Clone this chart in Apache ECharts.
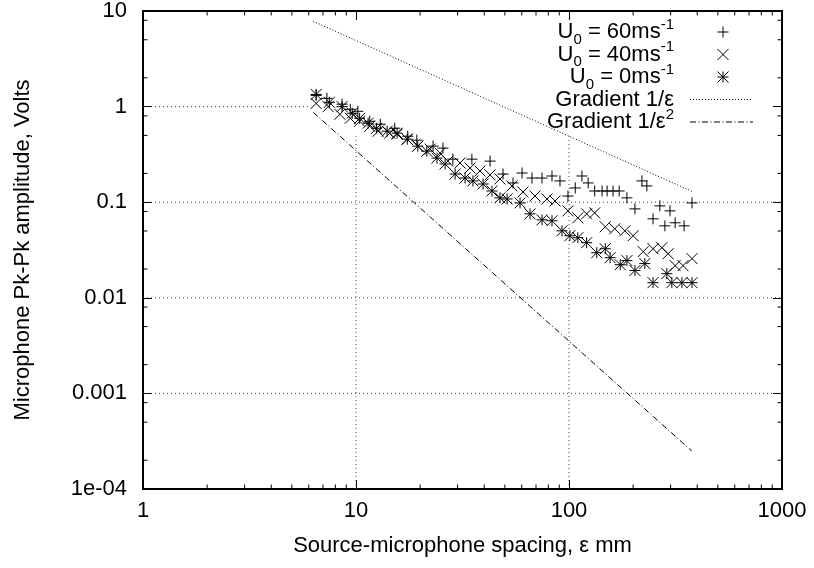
<!DOCTYPE html>
<html>
<head>
<meta charset="utf-8">
<script src="https://cdn.jsdelivr.net/npm/echarts@6/dist/echarts.min.js"></script>
<style>
html,body{margin:0;padding:0;background:#fff}
#chart{width:814px;height:568px}
</style>
</head>
<body>
<div id="chart"></div>
<script>
// U0 = 60 m/s  (+)
var u60X=[6.5,7.3,8.6,9.4,10.2,11.6,13.0,15.2,17.5,19.3,23.0,25.6,28.5,35.0,42.6,49.0,54.6,60.2,67.0,74.7,83.2,90.7,98.9,107,115,123,132,143,151,161,172,187,204,220,232,248,267,282,298,315,347,378];
var u60Y=[1.31,1.22,1.06,0.937,0.893,0.703,0.654,0.594,0.49,0.446,0.386,0.368,0.282,0.282,0.269,0.197,0.159,0.202,0.179,0.179,0.188,0.167,0.116,0.141,0.188,0.159,0.131,0.131,0.131,0.131,0.131,0.111,0.0851,0.167,0.148,0.067,0.0915,0.0566,0.0812,0.0609,0.0566,0.0983];
// U0 = 40 m/s  (x)
var u40X=[6.5,7.4,8.4,9.4,10.4,11.6,12.7,14.4,15.6,17.4,19.5,22.3,24.8,27.0,30.8,34.3,38.2,42.6,47.4,54.0,60.8,69.2,78.8,86.0,98.9,110,121,132,148,164,183,200,223,248,273,292,315,343,378];
var u40Y=[1.08,1.0,0.831,0.755,0.703,0.623,0.553,0.527,0.515,0.456,0.386,0.359,0.326,0.269,0.257,0.228,0.212,0.193,0.175,0.148,0.128,0.116,0.108,0.103,0.0812,0.0686,0.0755,0.0774,0.0553,0.0527,0.0502,0.0446,0.0304,0.0326,0.0334,0.0289,0.0217,0.0217,0.0257];
// U0 = 0 m/s  (*)
var u0X=[6.5,7.5,8.6,9.6,10.4,11.4,12.5,14.0,15.6,17.4,19.5,21.5,24.0,26.2,29.2,32.5,35.4,39.5,43.5,47.4,51.2,58.9,65.6,74.7,83.2,92.7,101,110,121,135,148,156,174,187,204,227,248,288,304,339,378];
var u0Y=[1.34,1.11,1.0,0.852,0.755,0.670,0.594,0.553,0.527,0.456,0.386,0.342,0.289,0.251,0.197,0.179,0.167,0.155,0.131,0.111,0.108,0.0983,0.0755,0.0654,0.0639,0.0502,0.0446,0.0425,0.0377,0.0296,0.0326,0.0263,0.0222,0.0245,0.0193,0.0228,0.0144,0.0179,0.0144,0.0144,0.0144];
// reference gradients (end points)
var grad1X=[6.3,377];
var grad1Y=[7.8,0.13];
var grad2X=[6.3,377];
var grad2Y=[0.87,0.00025];

var xTickLabels=['1','10','100','1000'];
var yTickLabels=['1e-04','0.001','0.01','0.1','1','10'];
var xMinorSteps=[2,3,4,5,6,7,8,9];
var yMinorSteps=[2,5,8];

var FONT='"Liberation Sans", Arial, Helvetica, sans-serif';
var xMin=1,xMax=1000,yMin=0.0001,yMax=10;

function zip(xs,ys){
	var d=[];
	for(var i=0;i<xs.length;i++) d.push([xs[i],ys[i]]);
	return d;
}
function log10(v){ return Math.log(v)/Math.LN10; }

function glyph(kind,cx,cy,s){
	var l=[],ch=[];
	if(kind=='plus'||kind=='star'){ l.push([-s,0,s,0]); l.push([0,-s,0,s]); }
	if(kind=='cross'||kind=='star'){ l.push([-s,-s,s,s]); l.push([-s,s,s,-s]); }
	for(var i=0;i<l.length;i++){
		ch.push({type:'line',shape:{x1:cx+l[i][0],y1:cy+l[i][1],x2:cx+l[i][2],y2:cy+l[i][3]},
			style:{stroke:'#000',lineWidth:1}});
	}
	return {type:'group',children:ch};
}
function markerSeries(name,kind,data){
	return {name:name,type:'custom',data:data,encode:{x:0,y:1},z:5,
		renderItem:function(params,api){
			var p=api.coord([api.value(0),api.value(1)]);
			return glyph(kind,p[0],p[1],5.5);
		}};
}
function lineSeries(data,dash,col,z){
	return {type:'line',data:data,symbol:'none',silent:true,z:z,
		lineStyle:{color:col,width:1,type:dash}};
}
// minor ticks on all four borders
function minorTicks(){
	var d=[],i,j;
	for(i=0;i<3;i++) for(j=0;j<xMinorSteps.length;j++) d.push(['x',xMinorSteps[j]*Math.pow(10,i)]);
	for(i=-4;i<1;i++) for(j=0;j<yMinorSteps.length;j++) d.push(['y',yMinorSteps[j]*Math.pow(10,i)]);
	return {type:'custom',silent:true,z:6,clip:false,
		data:d.map(function(t){ return t[0]=='x'?[t[1],yMin]:[xMin,t[1]]; }),
		encode:{x:0,y:1},
		renderItem:function(params,api){
			var t=d[params.dataIndex],len=4.5,a,b;
			if(t[0]=='x'){
				a=api.coord([t[1],yMin]); b=api.coord([t[1],yMax]);
				return {type:'group',children:[
					{type:'line',shape:{x1:a[0],y1:a[1],x2:a[0],y2:a[1]-len},style:{stroke:'#000',lineWidth:1}},
					{type:'line',shape:{x1:b[0],y1:b[1],x2:b[0],y2:b[1]+len},style:{stroke:'#000',lineWidth:1}}]};
			}
			a=api.coord([xMin,t[1]]); b=api.coord([xMax,t[1]]);
			return {type:'group',children:[
				{type:'line',shape:{x1:a[0],y1:a[1],x2:a[0]+len,y2:a[1]},style:{stroke:'#000',lineWidth:1}},
				{type:'line',shape:{x1:b[0],y1:b[1],x2:b[0]-len,y2:b[1]},style:{stroke:'#000',lineWidth:1}}]};
		}};
}

// grid lines, hidden where the opaque key box sits
var gridYFull=[0.1,0.01,0.001];
var gridXPart=[10,100];
var keyCutX=6.1,keyCutY=0.49;
var series=[];
for(var g=0;g<gridYFull.length;g++) series.push(lineSeries([[xMin,gridYFull[g]],[xMax,gridYFull[g]]],[1,3],'#444',1));
series.push(lineSeries([[xMin,1],[keyCutX,1]],[1,3],'#444',1));
for(g=0;g<gridXPart.length;g++) series.push(lineSeries([[gridXPart[g],yMin],[gridXPart[g],keyCutY]],[1,3],'#444',1));

series.push(lineSeries(zip(grad1X,grad1Y),[1,2],'#000',3));
series.push(lineSeries(zip(grad2X,grad2Y),[6,2.5,1,2.5],'#000',3));
series.push(markerSeries('U0 = 60ms-1','plus',zip(u60X,u60Y)));
series.push(markerSeries('U0 = 40ms-1','cross',zip(u40X,u40Y)));
series.push(markerSeries('U0 = 0ms-1','star',zip(u0X,u0Y)));
series.push(minorTicks());

// key
var rich={
	n:{fontSize:22,lineHeight:30,fontFamily:FONT,fill:'#000',verticalAlign:'middle'},
	sub:{fontSize:15,lineHeight:14,fontFamily:FONT,fill:'#000',verticalAlign:'bottom'},
	sup:{fontSize:15,lineHeight:14,fontFamily:FONT,fill:'#000',verticalAlign:'top'}
};
var keyTexts=['{n|U}{sub|0}{n| = 60ms}{sup|-1}','{n|U}{sub|0}{n| = 40ms}{sup|-1}','{n|U}{sub|0}{n| = 0ms}{sup|-1}',
	'{n|Gradient 1/\u03b5}','{n|Gradient 1/\u03b5}{sup|2}'];
var keyRows=[32,54.5,77,99.5,122];
var graphic=[];
for(var k=0;k<keyTexts.length;k++){
	graphic.push({type:'text',x:674,y:keyRows[k],z:10,
		style:{text:keyTexts[k],rich:rich,align:'right',verticalAlign:'middle',fill:'#000',font:'22px '+FONT}});
}
graphic.push(glyph('plus',723,keyRows[0],5.5));
graphic.push(glyph('cross',723,keyRows[1],5.5));
graphic.push(glyph('star',723,keyRows[2],5.5));
graphic.push({type:'line',shape:{x1:690,y1:keyRows[3],x2:753,y2:keyRows[3]},style:{stroke:'#000',lineWidth:1,lineDash:[1,2]}});
graphic.push({type:'line',shape:{x1:690,y1:keyRows[4],x2:753,y2:keyRows[4]},style:{stroke:'#000',lineWidth:1,lineDash:[6,2.5,1,2.5]}});

function xLab(v){ return xTickLabels[Math.round(log10(v))]; }
function yLab(v){ return yTickLabels[Math.round(log10(v))+4]; }
var tick={show:true,inside:true,length:9,lineStyle:{color:'#000',width:1}};

var option={
	animation:false,
	backgroundColor:'#fff',
	grid:{left:143,right:32,top:9,bottom:79,show:true,borderColor:'#000',borderWidth:2,backgroundColor:'transparent'},
	xAxis:[
		{type:'log',logBase:10,min:xMin,max:xMax,position:'bottom',
		 axisLine:{show:false},axisTick:tick,splitLine:{show:false},
		 axisLabel:{formatter:xLab,fontSize:22,color:'#000',fontFamily:FONT,margin:11},
		 name:'Source-microphone spacing, \u03b5 mm',nameLocation:'middle',nameGap:46,
		 nameTextStyle:{fontSize:22,color:'#000',fontFamily:FONT}},
		{type:'log',logBase:10,min:xMin,max:xMax,position:'top',
		 axisLine:{show:false},axisTick:tick,splitLine:{show:false},axisLabel:{show:false}}
	],
	yAxis:[
		{type:'log',logBase:10,min:yMin,max:yMax,position:'left',
		 axisLine:{show:false},axisTick:tick,splitLine:{show:false},
		 axisLabel:{formatter:yLab,fontSize:22,color:'#000',fontFamily:FONT,margin:16},
		 name:'Microphone Pk-Pk amplitude, Volts',nameLocation:'middle',nameGap:109,
		 nameTextStyle:{fontSize:22,color:'#000',fontFamily:FONT}},
		{type:'log',logBase:10,min:yMin,max:yMax,position:'right',
		 axisLine:{show:false},axisTick:tick,splitLine:{show:false},axisLabel:{show:false}}
	],
	graphic:graphic,
	series:series
};

var myChart=echarts.init(document.getElementById('chart'));
myChart.setOption(option);
</script>
</body>
</html>
